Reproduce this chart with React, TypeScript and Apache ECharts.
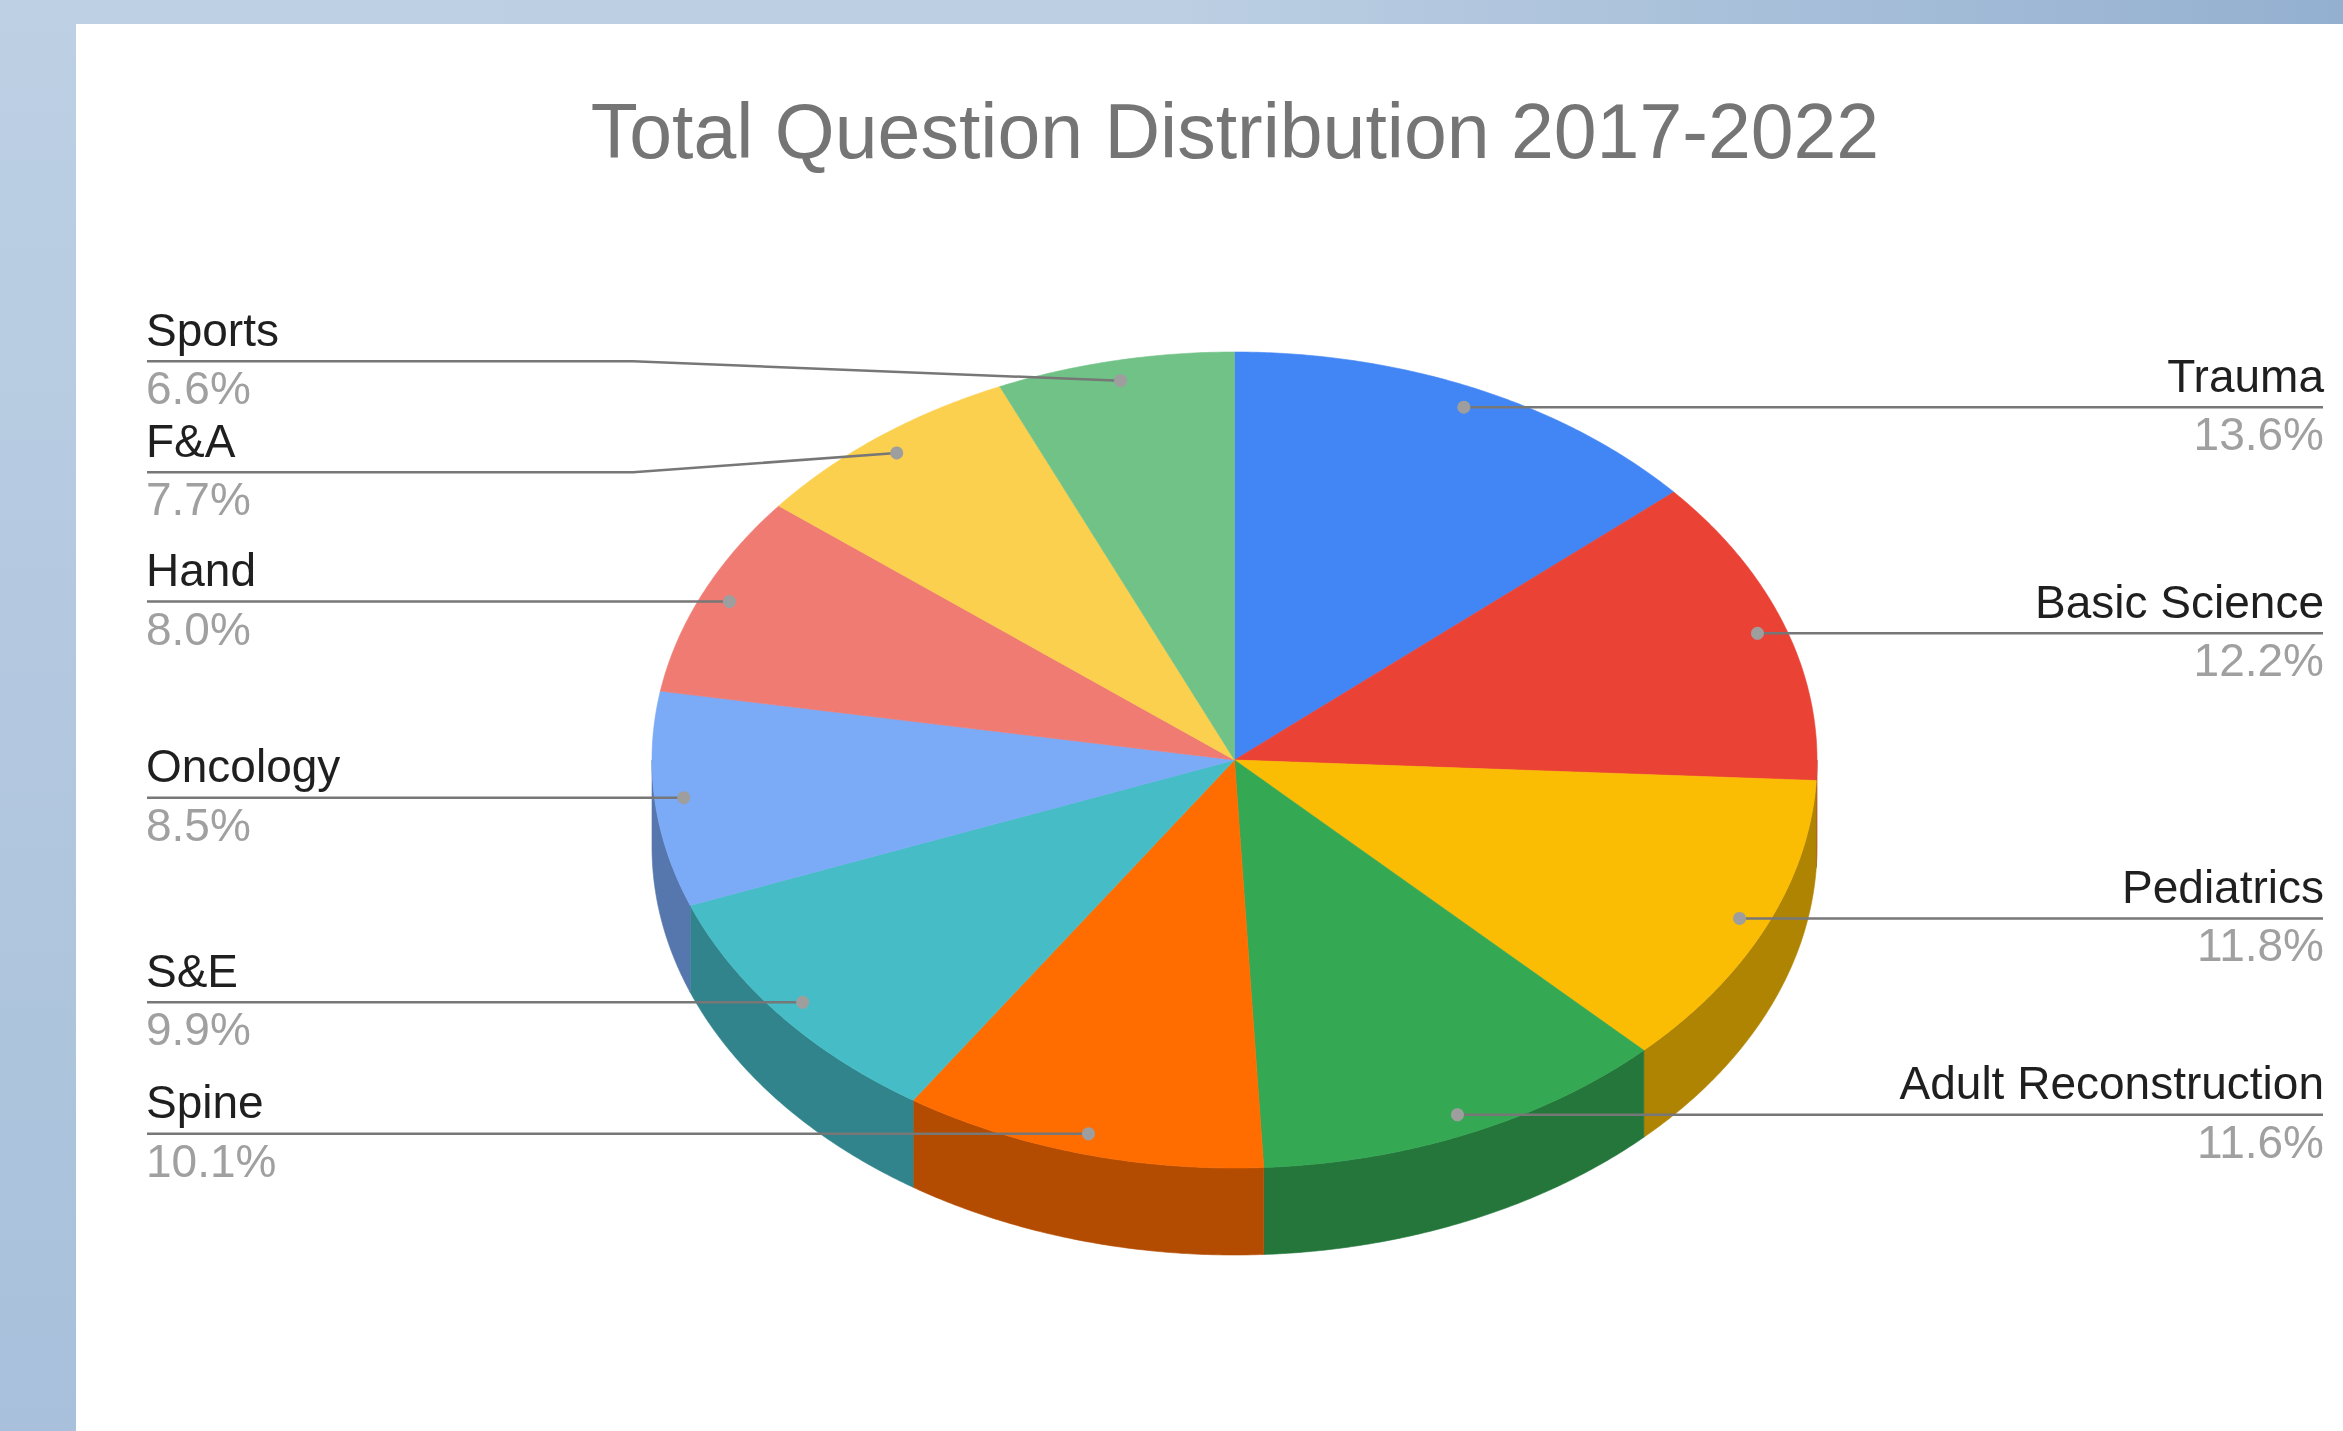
import React, { useEffect, useRef } from 'react';
import * as echarts from 'echarts';

// ---- data ----
const categories = ['Trauma', 'Basic Science', 'Pediatrics', 'Adult Reconstruction', 'Spine', 'S&E', 'Oncology', 'Hand', 'F&A', 'Sports'];
const values = [13.6, 12.2, 11.8, 11.6, 10.1, 9.9, 8.5, 8.0, 7.7, 6.6];
const sliceColors = ['#4285f4', '#ea4335', '#fbbc04', '#34a853', '#ff6d01', '#46bdc6', '#7baaf7', '#f07b72', '#fcd04f', '#71c287'];
const titleText = 'Total Question Distribution 2017-2022';

// ---- geometry / style ----
const W = 2343;
const H = 1431;
const CX = 1234.5;
const CY = 760;
const RX = 582.5;
const RY = 408;
const DEPTH = 87;
const DOT_R = 0.95;
const FONT = '"Liberation Sans", Arial, Helvetica, sans-serif';
const LABEL_FS = 46;
const LEFT_X = 147;
const RIGHT_X = 2323;
const LEFT_BEND = 633;
const RIGHT_BEND = 1838;
const MIN_GAP = 111;

function darken(hex: string, f: number) {
  const n = parseInt(hex.slice(1), 16);
  const r = Math.round(((n >> 16) & 255) * f);
  const g = Math.round(((n >> 8) & 255) * f);
  const b = Math.round((n & 255) * f);
  return `rgb(${r},${g},${b})`;
}

const total = values.reduce((a, b) => a + b, 0);
const startAngles: number[] = [];
const endAngles: number[] = [];
{
  let acc = 0;
  values.forEach((v) => {
    startAngles.push((acc / total) * 360);
    acc += v;
    endAngles.push((acc / total) * 360);
  });
}

function pt(deg: number, r = 1, dy = 0): number[] {
  const t = (deg * Math.PI) / 180;
  return [CX + r * RX * Math.sin(t), CY - r * RY * Math.cos(t) + dy];
}

function arc(a0: number, a1: number, dy: number): number[][] {
  const pts: number[][] = [];
  const n = Math.max(2, Math.ceil((a1 - a0) / 0.4));
  for (let i = 0; i <= n; i++) pts.push(pt(a0 + ((a1 - a0) * i) / n, 1, dy));
  return pts;
}

// label layout (computed from data)
const dots = values.map((_, i) => pt((startAngles[i] + endAngles[i]) / 2, DOT_R));
const sides = values.map((_, i) => ((startAngles[i] + endAngles[i]) / 2 < 180 ? 'right' : 'left'));
const labelY = dots.map((d) => d[1]);
['left', 'right'].forEach((side) => {
  const idx = values.map((_, i) => i).filter((i) => sides[i] === side).sort((a, b) => labelY[a] - labelY[b]);
  for (let pass = 0; pass < 60; pass++) {
    for (let k = 1; k < idx.length; k++) {
      const a = idx[k - 1];
      const b = idx[k];
      const gap = labelY[b] - labelY[a];
      if (gap < MIN_GAP) {
        const d = (MIN_GAP - gap) / 2;
        labelY[a] -= d;
        labelY[b] += d;
      }
    }
  }
});

const seriesData = values.map((v, i) => ({ value: v, name: categories[i] }));

function renderSlice(params: any, api: any) {
  const i = params.dataIndex;
  const color = sliceColors[i];
  const a0 = startAngles[i];
  const a1 = endAngles[i];
  const children: any[] = [];
  const s0 = Math.max(a0, 90);
  const s1 = Math.min(a1, 270);
  if (s1 > s0) {
    const top = arc(s0, s1, 0);
    const bot = arc(s0, s1, DEPTH).reverse();
    children.push({
      type: 'polygon',
      shape: { points: top.concat(bot) },
      style: { fill: darken(color, 0.7), stroke: darken(color, 0.7), lineWidth: 0.6 },
    });
  }
  children.push({
    type: 'polygon',
    shape: { points: [[CX, CY]].concat(arc(a0, a1, 0)) },
    style: { fill: color, stroke: color, lineWidth: 0.6 },
  });
  return { type: 'group', children };
}

function renderLabel(params: any, api: any) {
  const i = params.dataIndex;
  const v = api.value(0);
  const pct = ((v / total) * 100).toFixed(1) + '%';
  const [dx, dy] = dots[i];
  const ly = labelY[i];
  const right = sides[i] === 'right';
  const edge = right ? RIGHT_X : LEFT_X;
  const bend = right ? RIGHT_BEND : LEFT_BEND;
  const align = right ? 'right' : 'left';
  return {
    type: 'group',
    children: [
      {
        type: 'polyline',
        shape: { points: [[edge, ly], [bend, ly], [dx, dy]] },
        style: { stroke: '#777777', lineWidth: 2.5, fill: null },
      },
      {
        type: 'circle',
        shape: { cx: dx, cy: dy, r: 6.5 },
        style: { fill: '#9e9e9e' },
      },
      {
        type: 'text',
        style: {
          text: categories[i],
          x: right ? edge + 1 : edge - 1,
          y: ly - 31.5,
          fill: '#1f1f1f',
          fontSize: LABEL_FS,
          lineHeight: 38,
          fontFamily: FONT,
          align,
          verticalAlign: 'middle',
        },
      },
      {
        type: 'text',
        style: {
          text: pct,
          x: right ? edge + 1 : edge - 1,
          y: ly + 27,
          fill: '#a0a0a0',
          fontSize: LABEL_FS,
          lineHeight: 38,
          fontFamily: FONT,
          align,
          verticalAlign: 'middle',
        },
      },
    ],
  };
}

const option: any = {
  animation: false,
  graphic: {
    elements: [
      {
        type: 'rect',
        z: 0,
        shape: { x: 0, y: 0, width: W, height: H },
        style: {
          fill: new echarts.graphic.LinearGradient(0, 0, 1, 0, [
            { offset: 0, color: '#bdd0e4' },
            { offset: 0.5, color: '#bccfe3' },
            { offset: 1, color: '#94b0d0' },
          ]),
        },
      },
      {
        type: 'rect',
        z: 0,
        shape: { x: 0, y: 0, width: 76, height: H },
        style: {
          fill: new echarts.graphic.LinearGradient(0, 0, 0, 1, [
            { offset: 0, color: '#bdd0e4' },
            { offset: 1, color: '#a8c0db' },
          ]),
        },
      },
      {
        type: 'rect',
        z: 0,
        shape: { x: 76, y: 24, width: W - 76, height: H - 24 },
        style: { fill: '#ffffff' },
      },
      {
        type: 'text',
        z: 1,
        style: {
          text: titleText,
          x: 1235,
          y: 130.6,
          fill: '#757575',
          fontSize: 77,
          fontFamily: FONT,
          align: 'center',
          verticalAlign: 'middle',
        },
      },
    ],
  },
  series: [
    {
      type: 'custom',
      name: 'slices',
      coordinateSystem: 'none',
      z: 2,
      silent: true,
      data: seriesData,
      renderItem: renderSlice,
    },
    {
      type: 'custom',
      name: 'labels',
      coordinateSystem: 'none',
      z: 3,
      silent: true,
      data: seriesData,
      renderItem: renderLabel,
    },
  ],
};

export default function App() {
  const ref = useRef<HTMLDivElement>(null);
  useEffect(() => {
    const chart = echarts.init(ref.current as HTMLDivElement, null, { renderer: 'svg' });
    chart.setOption(option);
    return () => chart.dispose();
  }, []);
  return <div ref={ref} style={{ position: 'fixed', left: 0, top: 0, width: W, height: H }} />;
}
